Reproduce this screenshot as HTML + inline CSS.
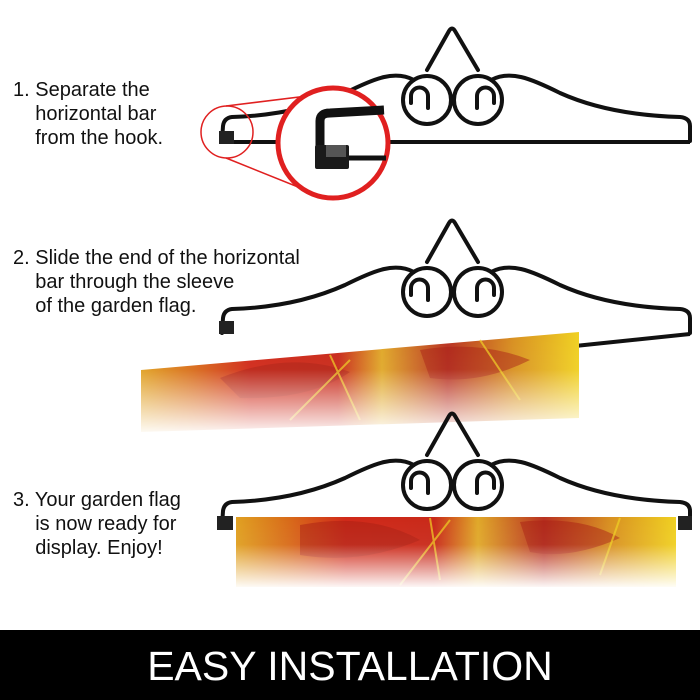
<!DOCTYPE html>
<html><head><meta charset="utf-8"><style>
html,body{margin:0;padding:0;background:#fff;}
.wrap{position:relative;width:700px;height:700px;overflow:hidden;font-family:"Liberation Sans",sans-serif;}
.t{position:absolute;left:13px;font-size:20px;line-height:24px;color:#111;}
.ban{position:absolute;left:0;top:630px;width:700px;height:70px;background:#000;color:#fff;font-size:41px;text-align:center;line-height:72px;}
</style></head><body><div class="wrap">
<svg width="700" height="700" style="position:absolute;left:0;top:0">
<defs>
<g id="crown" fill="none" stroke="#111" stroke-width="4" stroke-linecap="round" stroke-linejoin="round">
<path d="M427,70 L449,31 Q452,26 455,31 L478,70"/>
<circle cx="427" cy="100" r="24"/>
<circle cx="478" cy="100" r="24"/>
<path d="M428,108 L428,96 A8.5,8.5 0 0 0 411,96 L411,103"/>
<path d="M477,108 L477,96 A8.5,8.5 0 0 1 494,96 L494,103"/>
<path d="M414,80 C395,70 375,78 345,93 C305,111 265,116 232,117 Q224,118 223,126 L222,141"/>
<path d="M491,80 C510,70 530,78 560,93 C600,111 645,116 680,117 Q690,118 690,126 L690,141"/>
</g>
<linearGradient id="fade" x1="0" y1="0" x2="0" y2="1">
<stop offset="0" stop-color="#fff" stop-opacity="0"/><stop offset="0.4" stop-color="#fff" stop-opacity="0.05"/><stop offset="1" stop-color="#fff" stop-opacity="1"/></linearGradient>
<linearGradient id="flag" x1="0" y1="0" x2="1" y2="0">
<stop offset="0" stop-color="#e0a020"/><stop offset="0.12" stop-color="#d86a18"/><stop offset="0.25" stop-color="#d02818"/><stop offset="0.45" stop-color="#c82818"/><stop offset="0.55" stop-color="#e0a828"/><stop offset="0.7" stop-color="#b83020"/><stop offset="0.85" stop-color="#d89020"/><stop offset="1" stop-color="#f0d020"/></linearGradient>
</defs>
<!-- hanger 1 -->
<use href="#crown"/>
<g fill="none" stroke="#111" stroke-width="4">
<path d="M232,142 L690,142"/>
</g>
<rect x="219" y="131" width="15" height="13" fill="#222"/>
<!-- magnifier -->
<line x1="226" y1="106" x2="348" y2="91" stroke="#e02020" stroke-width="1.5"/>
<line x1="226" y1="158" x2="318" y2="195" stroke="#e02020" stroke-width="1.5"/>
<circle cx="227" cy="132" r="26" fill="none" stroke="#e02020" stroke-width="1.5"/>
<circle cx="333" cy="143" r="55" fill="#fff" stroke="#e02020" stroke-width="5"/>
<g fill="none" stroke="#111" stroke-linejoin="round">
<path d="M320,168 L320,121 Q320,113 330,113 L384,110" stroke-width="9"/>
<path d="M340,158 L386,158" stroke-width="5"/>
</g>
<rect x="315" y="145" width="34" height="24" rx="2" fill="#1a1a1a"/>
<rect x="326" y="145" width="20" height="12" fill="#555"/>
<!-- hanger 2 -->
<g transform="translate(0,192)"><use href="#crown"/></g>
<rect x="219" y="321" width="15" height="13" fill="#222"/>
<path d="M575,346 L690,334" stroke="#111" stroke-width="4"/>
<polygon points="141,370 579,332 579,418 141,432" fill="url(#flag)"/>
<path d="M220,378 Q290,350 350,372 Q310,400 240,398Z M420,350 Q480,340 530,360 Q480,385 430,378Z" fill="#a81c10" opacity="0.5"/>
<path d="M330,355 L360,420 M350,360 L290,420 M480,340 L520,400" stroke="#f0d020" stroke-width="2" opacity="0.7"/>
<polygon points="139,362 581,325 581,425 139,436" fill="url(#fade)"/>
<!-- hanger 3 -->
<g transform="translate(0,385)"><use href="#crown"/></g>
<rect x="217" y="516" width="16" height="14" fill="#222"/>
<rect x="678" y="516" width="14" height="14" fill="#222"/>
<rect x="236" y="517" width="440" height="70" fill="url(#flag)"/>
<path d="M300,525 Q370,512 420,540 Q360,565 300,555Z M520,522 Q580,515 620,538 Q570,560 530,552Z" fill="#a81c10" opacity="0.5"/>
<path d="M430,518 L440,580 M450,520 L400,585 M620,518 L600,575" stroke="#f0d020" stroke-width="2" opacity="0.7"/>
<rect x="234" y="515" width="444" height="74" fill="url(#fade)"/>
</svg>
<div class="t" style="top:78px">1. Separate the<br>&nbsp;&nbsp;&nbsp;&nbsp;horizontal bar<br>&nbsp;&nbsp;&nbsp;&nbsp;from the hook.</div>
<div class="t" style="top:246px">2. Slide the end of the horizontal<br>&nbsp;&nbsp;&nbsp;&nbsp;bar through the sleeve<br>&nbsp;&nbsp;&nbsp;&nbsp;of the garden flag.</div>
<div class="t" style="top:488px">3. Your garden flag<br>&nbsp;&nbsp;&nbsp;&nbsp;is now ready for<br>&nbsp;&nbsp;&nbsp;&nbsp;display. Enjoy!</div>
<div class="ban">EASY INSTALLATION</div>
</div></body></html>
